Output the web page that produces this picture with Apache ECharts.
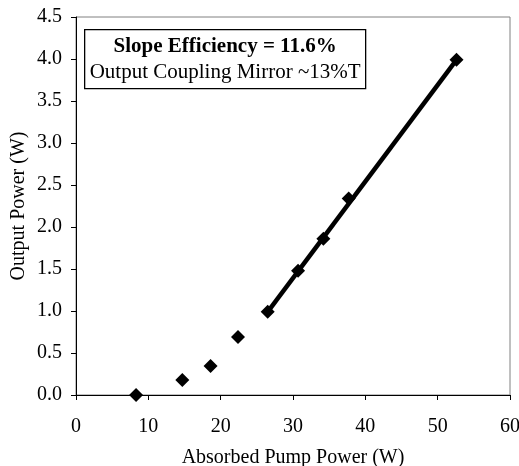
<!DOCTYPE html>
<html>
<head>
<meta charset="utf-8">
<script src="https://cdn.jsdelivr.net/npm/echarts@6/dist/echarts.min.js"></script>
<style>html,body{margin:0;padding:0;background:#fff}#c{width:519px;height:466px}</style>
</head>
<body>
<div id="c"></div>
<script>
// Data
var pumpPower = [8.3, 14.7, 18.6, 22.4, 26.5, 30.7, 34.2, 37.7, 52.6];
var outputPower = [0.0, 0.18, 0.345, 0.69, 0.99, 1.48, 1.86, 2.34, 3.99];
var fitX = [26.5, 52.6];
var fitY = [0.99, 3.99];
var xTicks = [0, 10, 20, 30, 40, 50, 60];
var yTicks = [0.0, 0.5, 1.0, 1.5, 2.0, 2.5, 3.0, 3.5, 4.0, 4.5];
var annotLine1 = 'Slope Efficiency = 11.6%';
var annotLine2 = 'Output Coupling Mirror ~13%T';
var xName = 'Absorbed Pump Power (W)';
var yName = 'Output Power (W)';

var font = 'Liberation Serif';
var chart = echarts.init(document.getElementById('c'), null, {renderer: 'canvas'});
chart.setOption({
  animation: false,
  backgroundColor: '#fff',
  grid: {left: 76, right: 9, top: 17, bottom: 71, show: true, borderColor: '#808080', borderWidth: 1,
         containLabel: false, outerBoundsMode: 'none'},
  xAxis: {
    type: 'value', min: xTicks[0], max: xTicks[xTicks.length - 1], interval: 10,
    name: xName, nameLocation: 'middle', nameGap: 53, nameMoveOverlap: false,
    nameTextStyle: {fontFamily: font, fontSize: 20, color: '#000'},
    axisLine: {show: true, onZero: false, lineStyle: {color: '#000', width: 1}},
    axisTick: {show: true, inside: false, length: 5, lineStyle: {color: '#000'}},
    axisLabel: {fontFamily: font, fontSize: 20, color: '#000', margin: 22},
    splitLine: {show: false}
  },
  yAxis: {
    type: 'value', min: yTicks[0], max: yTicks[yTicks.length - 1], interval: 0.5,
    name: yName, nameLocation: 'middle', nameGap: 47, nameMoveOverlap: false,
    nameTextStyle: {fontFamily: font, fontSize: 20, color: '#000'},
    axisLine: {show: true, onZero: false, lineStyle: {color: '#000', width: 1}},
    axisTick: {show: true, inside: false, length: 5, lineStyle: {color: '#000'}},
    axisLabel: {fontFamily: font, fontSize: 20, color: '#000', margin: 14,
      formatter: function (v) { return v.toFixed(1); }},
    splitLine: {show: false}
  },
  series: [
    {
      type: 'line',
      data: fitX.map(function (x, i) { return [x, fitY[i]]; }),
      showSymbol: false, symbol: 'none',
      lineStyle: {color: '#000', width: 4.5},
      z: 2
    },
    {
      type: 'scatter',
      data: pumpPower.map(function (x, i) { return [x, outputPower[i]]; }),
      symbol: 'diamond', symbolSize: [14, 14],
      itemStyle: {color: '#000', opacity: 1},
      z: 3
    }
  ],
  graphic: [
    {
      type: 'group', left: 84, top: 29,
      children: [
        {type: 'rect', shape: {x: 0, y: 0, width: 281, height: 59},
         style: {fill: '#fff', stroke: '#000', lineWidth: 1.3}},
        {type: 'text', x: 140.5, y: 17, style: {text: annotLine1, fontFamily: font, fontSize: 21, fontWeight: 'bold', fill: '#000', textAlign: 'center', textVerticalAlign: 'middle'}},
        {type: 'text', x: 140.5, y: 43, style: {text: annotLine2, fontFamily: font, fontSize: 21, fill: '#000', textAlign: 'center', textVerticalAlign: 'middle'}}
      ]
    }
  ]
});
</script>
</body>
</html>
